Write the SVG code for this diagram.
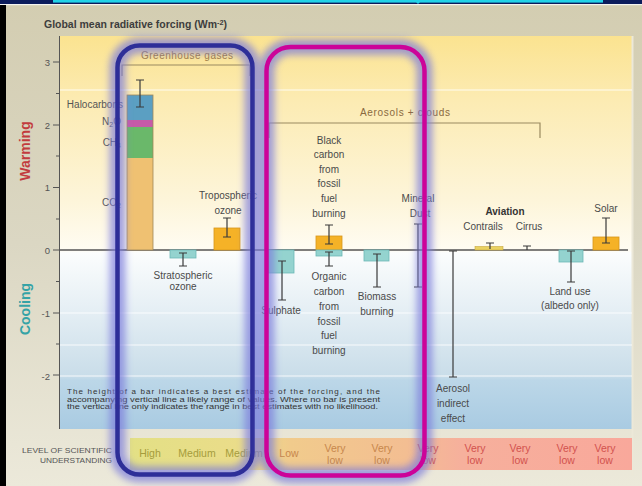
<svg xmlns="http://www.w3.org/2000/svg" width="642" height="486" viewBox="0 0 642 486">
<defs>
<linearGradient id="bgG" x1="0" y1="0" x2="0" y2="486" gradientUnits="userSpaceOnUse">
<stop offset="0" stop-color="#d3cdb1"/>
<stop offset="0.5" stop-color="#dbd7c3"/>
<stop offset="1" stop-color="#ece9da"/>
</linearGradient>
<linearGradient id="plotG" x1="0" y1="36" x2="0" y2="429" gradientUnits="userSpaceOnUse">
<stop offset="0" stop-color="#fbe390"/>
<stop offset="0.16" stop-color="#fcebb2"/>
<stop offset="0.42" stop-color="#fdf5da"/>
<stop offset="0.545" stop-color="#fffcf2"/>
<stop offset="0.552" stop-color="#fbfdfd"/>
<stop offset="0.705" stop-color="#e4eef4"/>
<stop offset="0.865" stop-color="#c9dde9"/>
<stop offset="0.875" stop-color="#bcd7e8"/>
<stop offset="1" stop-color="#a9cbe2"/>
</linearGradient>
<linearGradient id="levelG" x1="130" y1="0" x2="632" y2="0" gradientUnits="userSpaceOnUse">
<stop offset="0" stop-color="#e3e085"/>
<stop offset="0.24" stop-color="#ebdc8a"/>
<stop offset="0.32" stop-color="#f1cb8c"/>
<stop offset="0.55" stop-color="#f3be92"/>
<stop offset="0.66" stop-color="#f6b09c"/>
<stop offset="1" stop-color="#f9a89b"/>
</linearGradient>
<filter id="glow" x="-20%" y="-20%" width="140%" height="140%"><feGaussianBlur stdDeviation="3.5"/></filter>
</defs>
<style>
text{font-family:"Liberation Sans",Arial,sans-serif;}
.lbl{font-size:10px;fill:#4a4a4a;text-anchor:middle;}
.tick{font-size:9.5px;fill:#555;text-anchor:end;}
.eb{stroke:#3a3a3a;stroke-width:1.2;fill:none;}
.teal{fill:#94d3cf;stroke:#6bb8b6;stroke-width:0.8;}
.org{fill:#f5b227;stroke:#d8961a;stroke-width:0.8;}
.lv{font-size:10.5px;text-anchor:middle;}
.y{fill:#a59c3c;}
.o{fill:#c7874c;}
.r{fill:#d2524e;}
.glow{fill:none;stroke:#7c7cdc;stroke-width:16;opacity:0.7;filter:url(#glow);}
.brk{fill:none;stroke:#9a8a60;stroke-width:1.2;}
.wl{stroke:#ffffff;stroke-width:1.5;opacity:0.55;}
</style>

<!-- frame / background -->
<rect x="0" y="0" width="642" height="486" fill="url(#bgG)"/>
<rect x="0" y="0" width="642" height="4" fill="#0c1c5c"/>
<rect x="53" y="0" width="550" height="3" fill="#22d3e8"/>
<line x1="53" y1="3" x2="603" y2="3" stroke="#0c1c5c" stroke-width="0.8"/>
<polygon points="414,0 422,0 418,4" fill="#22d3e8"/>
<rect x="0" y="4" width="642" height="1.2" fill="#f4f4f0"/>
<rect x="0" y="5" width="6" height="481" fill="#000"/>

<!-- plot panel -->
<rect x="60" y="36" width="572" height="393" fill="url(#plotG)"/>
<line x1="632.5" y1="36" x2="632.5" y2="476" stroke="#ece8d8" stroke-width="2"/>
<line class="wl" x1="60" y1="90" x2="632" y2="90"/>
<line class="wl" x1="60" y1="313" x2="632" y2="313"/>
<line class="wl" x1="60" y1="345" x2="632" y2="345"/>
<line class="wl" x1="60" y1="376" x2="632" y2="376"/>

<!-- axis -->
<g id="axis">
<line x1="59.5" y1="36" x2="59.5" y2="429" stroke="#555" stroke-width="1"/>
<path d="M53 62H60M53 125H60M53 187.5H60M53 250H60M53 313H60M53 375H60M56 93.5H60M56 156H60M56 219H60M56 281.5H60M56 344H60" stroke="#555" stroke-width="1" fill="none"/>
<text class="tick" x="50" y="65.5">3</text>
<text class="tick" x="50" y="128.5">2</text>
<text class="tick" x="50" y="191">1</text>
<text class="tick" x="50" y="253.5">0</text>
<text class="tick" x="50" y="316.5">-1</text>
<text class="tick" x="50" y="380">-2</text>
<text x="44" y="28" font-size="10" font-weight="bold" fill="#3d3d3d" textLength="183" lengthAdjust="spacingAndGlyphs">Global mean radiative forcing (Wm<tspan font-size="7" dy="-3">-2</tspan><tspan dy="3">)</tspan></text>
<text transform="translate(30,151) rotate(-90)" text-anchor="middle" font-size="14" font-weight="bold" fill="#c23c3e">Warming</text>
<text transform="translate(30,309) rotate(-90)" text-anchor="middle" font-size="14" font-weight="bold" fill="#35a3a6">Cooling</text>
</g>

<!-- brackets -->
<g id="brackets">
<path class="brk" d="M122 76V65H250V76"/>
<text x="187" y="58.5" font-size="10" fill="#a07c45" text-anchor="middle" textLength="92">Greenhouse gases</text>
<path class="brk" d="M269 138V123H540V138"/>
<text x="405" y="115.5" font-size="10" fill="#8a6a40" text-anchor="middle" textLength="90">Aerosols + clouds</text>
</g>

<!-- zero line -->
<line x1="60" y1="250" x2="628" y2="250" stroke="#555" stroke-width="1.5"/>

<g id="ghg">
<rect x="127" y="158" width="26" height="92" fill="#efc172"/>
<rect x="127" y="127" width="26" height="31" fill="#6ab86a"/>
<rect x="127" y="120" width="26" height="7" fill="#c65aa8"/>
<rect x="127" y="95" width="26" height="25" fill="#5b9fc2"/>
<rect x="127" y="95" width="26" height="155" fill="none" stroke="#a08858" stroke-width="0.8"/>
<path class="eb" d="M136 80H144M140 80V107M136 107H144"/>
<text x="123" y="108" font-size="10" fill="#555" text-anchor="end">Halocarbons</text>
<text x="121" y="125" font-size="10" fill="#555" text-anchor="end">N<tspan font-size="7" dy="2">2</tspan><tspan dy="-2">O</tspan></text>
<text x="121" y="146" font-size="10" fill="#555" text-anchor="end">CH<tspan font-size="7" dy="2">4</tspan></text>
<text x="121" y="206" font-size="10" fill="#555" text-anchor="end">CO<tspan font-size="7" dy="2">2</tspan></text>
</g>

<g id="strat-ozone">
<rect class="teal" x="170" y="250" width="26" height="8"/>
<path class="eb" d="M179 253H187M183 253V266M179 266H187"/>
<text class="lbl" x="183" y="278.5">Stratospheric</text>
<text class="lbl" x="183" y="290">ozone</text>
</g>

<g id="trop-ozone">
<rect class="org" x="214" y="228" width="26" height="22"/>
<path class="eb" d="M223 218H231M227 218V237M223 237H231"/>
<text class="lbl" x="228" y="198.5">Tropospheric</text>
<text class="lbl" x="228" y="213.5">ozone</text>
</g>

<g id="sulphate">
<rect class="teal" x="268" y="250" width="26" height="23"/>
<path class="eb" d="M278 261H286M282 261V300M278 300H286"/>
<text class="lbl" x="281" y="313.5">Sulphate</text>
</g>

<g id="black-carbon">
<rect class="org" x="316" y="236" width="26" height="14"/>
<path class="eb" d="M325 225H333M329 225V244M325 244H333"/>
<text class="lbl" x="329" y="143.5">Black</text>
<text class="lbl" x="329" y="158">carbon</text>
<text class="lbl" x="329" y="172.5">from</text>
<text class="lbl" x="329" y="187">fossil</text>
<text class="lbl" x="329" y="202">fuel</text>
<text class="lbl" x="329" y="216.5">burning</text>
</g>

<g id="organic-carbon">
<rect class="teal" x="316" y="250" width="26" height="6"/>
<path class="eb" d="M325 252H333M329 252V266M325 266H333"/>
<text class="lbl" x="329" y="280">Organic</text>
<text class="lbl" x="329" y="295">carbon</text>
<text class="lbl" x="329" y="310">from</text>
<text class="lbl" x="329" y="325">fossil</text>
<text class="lbl" x="329" y="339">fuel</text>
<text class="lbl" x="329" y="354">burning</text>
</g>

<g id="biomass">
<rect class="teal" x="364" y="250" width="25" height="11"/>
<path class="eb" d="M373 254H381M377 254V287M373 287H381"/>
<text class="lbl" x="377" y="300">Biomass</text>
<text class="lbl" x="377" y="315">burning</text>
</g>

<g id="mineral-dust">
<path class="eb" d="M414 224H422M418 224V287M414 287H422"/>
<text class="lbl" x="418" y="201.5">Mineral</text>
<text class="lbl" x="420" y="216.5">Dust</text>
</g>

<g id="aerosol-indirect">
<path class="eb" d="M449 251H457M453 251V377M449 377H457"/>
<text class="lbl" x="453" y="391.5">Aerosol</text>
<text class="lbl" x="453" y="406.5">indirect</text>
<text class="lbl" x="453" y="421.5">effect</text>
</g>

<g id="aviation">
<text x="505" y="215" font-size="10" font-weight="bold" fill="#333" text-anchor="middle">Aviation</text>
<rect x="475" y="246.5" width="28" height="3.5" fill="#ead262" stroke="#c8a840" stroke-width="0.6"/>
<path class="eb" d="M486 243H494M490 243V249"/>
<text class="lbl" x="483" y="230">Contrails</text>
<path class="eb" d="M523 246H531M527 246V250"/>
<text class="lbl" x="529" y="230">Cirrus</text>
</g>

<g id="land-use">
<rect class="teal" x="559" y="250" width="24" height="12"/>
<path class="eb" d="M567 251H575M571 251V282M567 282H575"/>
<text class="lbl" x="570" y="295">Land use</text>
<text class="lbl" x="570" y="308.5">(albedo only)</text>
</g>

<g id="solar">
<rect class="org" x="593" y="237" width="26" height="13"/>
<path class="eb" d="M602 218H610M606 218V243M602 243H610"/>
<text class="lbl" x="606" y="211.5">Solar</text>
</g>

<g id="note">
<text x="67" y="394" font-size="8" fill="#333" textLength="313" lengthAdjust="spacing">The height of a bar indicates a best estimate of the forcing, and the</text>
<text x="67" y="401.5" font-size="8" fill="#333" textLength="313" lengthAdjust="spacingAndGlyphs">accompanying vertical line a likely range of values.  Where no bar is present</text>
<text x="67" y="409" font-size="8" fill="#333" textLength="311" lengthAdjust="spacingAndGlyphs">the vertical line only indicates the range in best estimates with no likelihood.</text>
</g>

<g id="level-row">
<rect x="130" y="438" width="502" height="32" fill="url(#levelG)"/>
<text x="112" y="453" font-size="7.5" fill="#555" text-anchor="end" textLength="90" lengthAdjust="spacingAndGlyphs">LEVEL OF SCIENTIFIC</text>
<text x="112" y="463" font-size="7.5" fill="#555" text-anchor="end" textLength="72" lengthAdjust="spacingAndGlyphs">UNDERSTANDING</text>
<text class="lv y" x="150" y="457">High</text>
<text class="lv y" x="197" y="457">Medium</text>
<text class="lv y" x="244" y="457">Medium</text>
<text class="lv o" x="289" y="457">Low</text>
<text class="lv o" x="335" y="451.5">Very</text><text class="lv o" x="335" y="463.5">low</text>
<text class="lv o" x="382" y="451.5">Very</text><text class="lv o" x="382" y="463.5">low</text>
<text class="lv r" x="428" y="451.5">Very</text><text class="lv r" x="428" y="463.5">low</text>
<text class="lv r" x="475" y="451.5">Very</text><text class="lv r" x="475" y="463.5">low</text>
<text class="lv r" x="520" y="451.5">Very</text><text class="lv r" x="520" y="463.5">low</text>
<text class="lv r" x="567" y="451.5">Very</text><text class="lv r" x="567" y="463.5">low</text>
<text class="lv r" x="605" y="451.5">Very</text><text class="lv r" x="605" y="463.5">low</text>
</g>

<!-- highlight frames -->
<g id="frame-blue">
<rect class="glow" x="117.5" y="45.5" width="135" height="429" rx="22"/>
<rect x="117.5" y="45.5" width="135" height="429" rx="22" fill="none" stroke="#2e2e98" stroke-width="4.5"/>
</g>
<g id="frame-magenta">
<rect class="glow" x="266.5" y="47" width="158" height="428.5" rx="24"/>
<rect x="266.5" y="47" width="158" height="428.5" rx="24" fill="none" stroke="#cc0399" stroke-width="4.5"/>
</g>
</svg>
